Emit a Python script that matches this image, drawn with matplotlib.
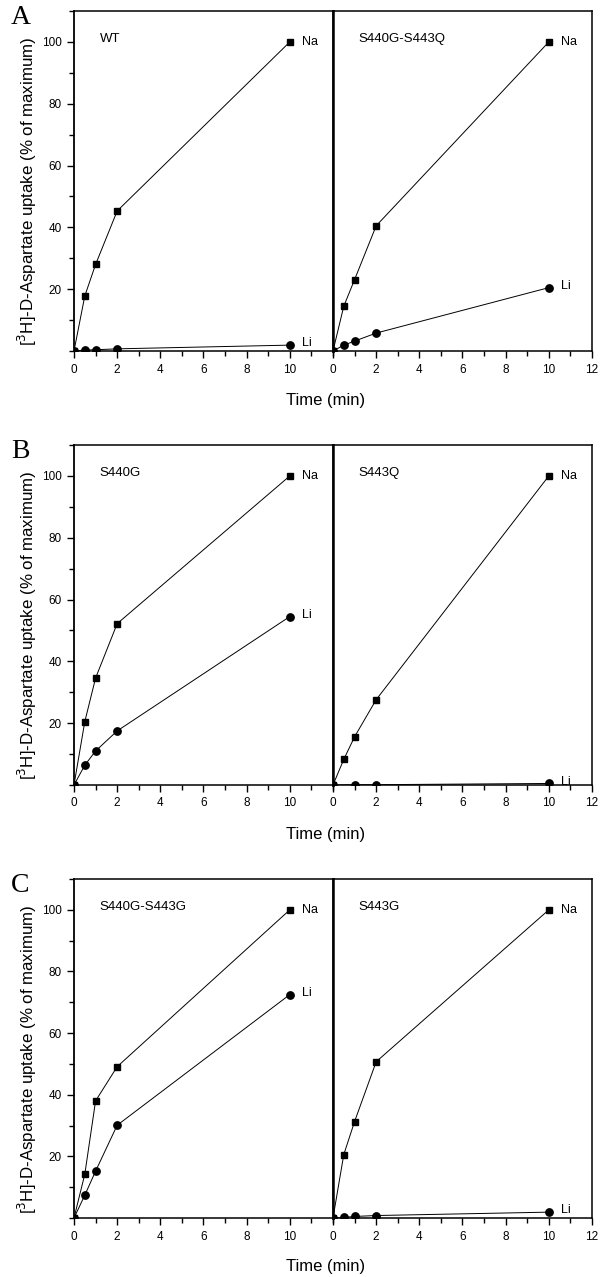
import matplotlib
matplotlib.use("Agg")
import matplotlib.pyplot as plt
import numpy as np
from matplotlib.ticker import MultipleLocator

plt.rcParams['font.family'] = ['Liberation Sans', 'DejaVu Sans']

# ---- data ----
time = [0, 0.5, 1, 2, 10]

panel_letters = ["A", "B", "C"]
left_names = ["WT", "S440G", "S440G-S443G"]
right_names = ["S440G-S443Q", "S443Q", "S443G"]

left_na = [
    [0, 17.8, 28.0, 45.3, 100],
    [0, 20.5, 34.6, 52.2, 100],
    [0, 14.2, 38.0, 49.1, 100],
]
left_li = [
    [0, 0.3, 0.4, 0.7, 1.9],
    [0, 6.4, 11.0, 17.5, 54.5],
    [0, 7.4, 15.2, 30.1, 72.5],
]
right_na = [
    [0, 14.5, 23.1, 40.5, 100],
    [0, 8.3, 15.6, 27.6, 100],
    [0, 20.6, 31.3, 50.7, 100],
]
right_li = [
    [0, 1.9, 3.2, 5.8, 20.5],
    [0, np.nan, 0.1, 0.1, 0.5],
    [0, 0.2, 0.5, 0.8, 1.9],
]

W, H = 601, 1277
fig = plt.figure(figsize=(W / 100, H / 100), dpi=100)

# axes pixel boxes: (top, bottom)
rows = [(11, 351), (445, 785), (879, 1218)]
xl0, xmid, xr1 = 74, 333, 592

def style(ax, left_side):
    ax.set_xlim(0, 12)
    ax.set_ylim(0, 110)
    ax.xaxis.set_major_locator(MultipleLocator(2))
    ax.xaxis.set_minor_locator(MultipleLocator(1))
    ax.tick_params(axis='x', which='major', direction='out', length=5, width=1.0,
                   labelsize=8.5, pad=4)
    ax.tick_params(axis='x', which='minor', direction='out', length=3.5, width=1.0)
    for s in ax.spines.values():
        s.set_linewidth(1.1)
    if left_side:
        ax.yaxis.set_major_locator(MultipleLocator(20))
        ax.yaxis.set_minor_locator(MultipleLocator(10))
        ax.set_yticks([20, 40, 60, 80, 100])
        ax.tick_params(axis='y', which='major', direction='out', length=5, width=1.0,
                       labelsize=8.5, pad=4)
        ax.tick_params(axis='y', which='minor', direction='out', length=3.5, width=1.0)
        ax.set_xticks([0, 2, 4, 6, 8, 10])
        ax.spines['right'].set_linewidth(1.8)
        ax.spines['left'].set_linewidth(1.3)
    else:
        ax.set_yticks([])
        ax.tick_params(axis='y', which='both', length=0)
        ax.set_xticks([0, 2, 4, 6, 8, 10, 12])
        ax.spines['left'].set_linewidth(1.8)

def draw(ax, na, li, name):
    ax.plot(time, na, color='black', lw=0.7, marker='s', ms=5, mfc='black', mec='black')
    t_li = [t for t, v in zip(time, li) if not np.isnan(v)]
    v_li = [v for v in li if not np.isnan(v)]
    ax.plot(t_li, v_li, color='black', lw=0.7, marker='o', ms=5.3, mfc='black', mec='black')
    ax.text(1.2, 101, name, fontsize=9.5, ha='left', va='center')
    ax.text(10.55, na[-1], "Na", fontsize=9, ha='left', va='center')
    ax.text(10.55, li[-1] + 0.6, "Li", fontsize=9, ha='left', va='center')

for i, (top, bot) in enumerate(rows):
    b = 1 - bot / H
    h = (bot - top) / H
    axl = fig.add_axes([xl0 / W, b, (xmid - xl0) / W, h])
    axr = fig.add_axes([xmid / W, b, (xr1 - xmid) / W, h])
    style(axl, True)
    style(axr, False)
    draw(axl, left_na[i], left_li[i], left_names[i])
    draw(axr, right_na[i], right_li[i], right_names[i])
    # panel letter
    fig.text(11 / W, 1 - (top + 7) / H, panel_letters[i], fontsize=20,
             family=['Liberation Serif', 'DejaVu Serif'], ha='left', va='center')
    # y label
    fig.text(27 / W, 1 - (top + 180) / H,
             r"[$^{3}$H]-D-Aspartate uptake (% of maximum)",
             rotation=90, fontsize=12.2, ha='center', va='center')
    # x label
    fig.text(326 / W, 1 - (bot + 49) / H, "Time (min)", fontsize=12,
             ha='center', va='center')

fig.savefig("out.png", dpi=100)
